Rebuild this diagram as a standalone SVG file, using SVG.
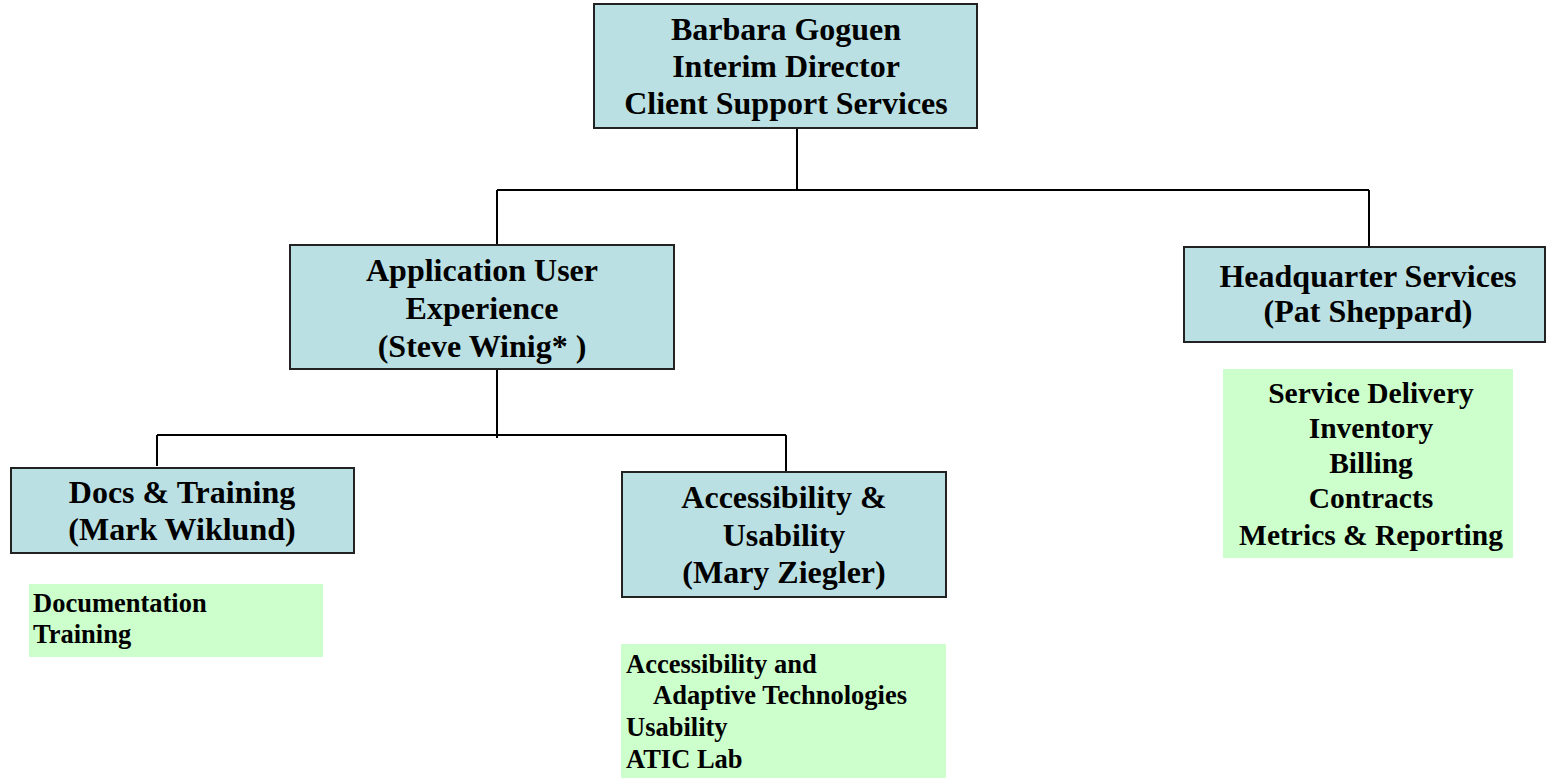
<svg xmlns="http://www.w3.org/2000/svg" width="1547" height="778" viewBox="0 0 1547 778">
<style>
.box{fill:#BBE0E3;stroke:#222;stroke-width:2}
.sub{fill:#CCFFCC;stroke:none}
.t{font-family:"Liberation Serif","Times New Roman",serif;font-weight:bold;fill:#000}
.big{font-size:32px;text-anchor:middle}
.hq{font-size:29.5px;text-anchor:middle}
.sm{font-size:26.5px}
.conn{stroke:#000;stroke-width:2;fill:none}
</style>
<rect width="1547" height="778" fill="#fff"/>
<g id="connectors">
<path class="conn" d="M797 129V190M497 190H1369M497 190V245M1369 190V247"/>
<path class="conn" d="M497 370V438M157 435H786M157 435V466M786 435V471"/>
</g>
<g id="director">
<rect class="box" x="594" y="4" width="383" height="124"/>
<text class="t big" x="786" y="40">Barbara Goguen</text>
<text class="t big" x="786" y="77">Interim Director</text>
<text class="t big" x="786" y="114">Client Support Services</text>
</g>
<g id="app-ux">
<rect class="box" x="290" y="245" width="384" height="124"/>
<text class="t big" x="482" y="281">Application User</text>
<text class="t big" x="482" y="319">Experience</text>
<text class="t big" x="482" y="357">(Steve Winig* )</text>
</g>
<g id="hq">
<rect class="box" x="1184" y="247" width="361" height="95"/>
<text class="t big" x="1368" y="287">Headquarter Services</text>
<text class="t big" x="1368" y="322">(Pat Sheppard)</text>
</g>
<g id="hq-list">
<rect class="sub" x="1223" y="369" width="290" height="189"/>
<text class="t hq" x="1371" y="403">Service Delivery</text>
<text class="t hq" x="1371" y="438">Inventory</text>
<text class="t hq" x="1371" y="473">Billing</text>
<text class="t hq" x="1371" y="508">Contracts</text>
<text class="t hq" x="1371" y="545">Metrics &amp; Reporting</text>
</g>
<g id="docs">
<rect class="box" x="11" y="468" width="343" height="85"/>
<text class="t big" x="182" y="503">Docs &amp; Training</text>
<text class="t big" x="182" y="540">(Mark Wiklund)</text>
</g>
<g id="docs-list">
<rect class="sub" x="29" y="584" width="294" height="73"/>
<text class="t sm" x="33" y="612">Documentation</text>
<text class="t sm" x="33" y="643">Training</text>
</g>
<g id="access">
<rect class="box" x="622" y="472" width="324" height="125"/>
<text class="t big" x="784" y="508">Accessibility &amp;</text>
<text class="t big" x="784" y="546">Usability</text>
<text class="t big" x="784" y="583">(Mary Ziegler)</text>
</g>
<g id="access-list">
<rect class="sub" x="621" y="644" width="325" height="134"/>
<text class="t sm" x="626" y="673">Accessibility and</text>
<text class="t sm" x="653" y="704">Adaptive Technologies</text>
<text class="t sm" x="626" y="736">Usability</text>
<text class="t sm" x="626" y="768">ATIC Lab</text>
</g>
</svg>
